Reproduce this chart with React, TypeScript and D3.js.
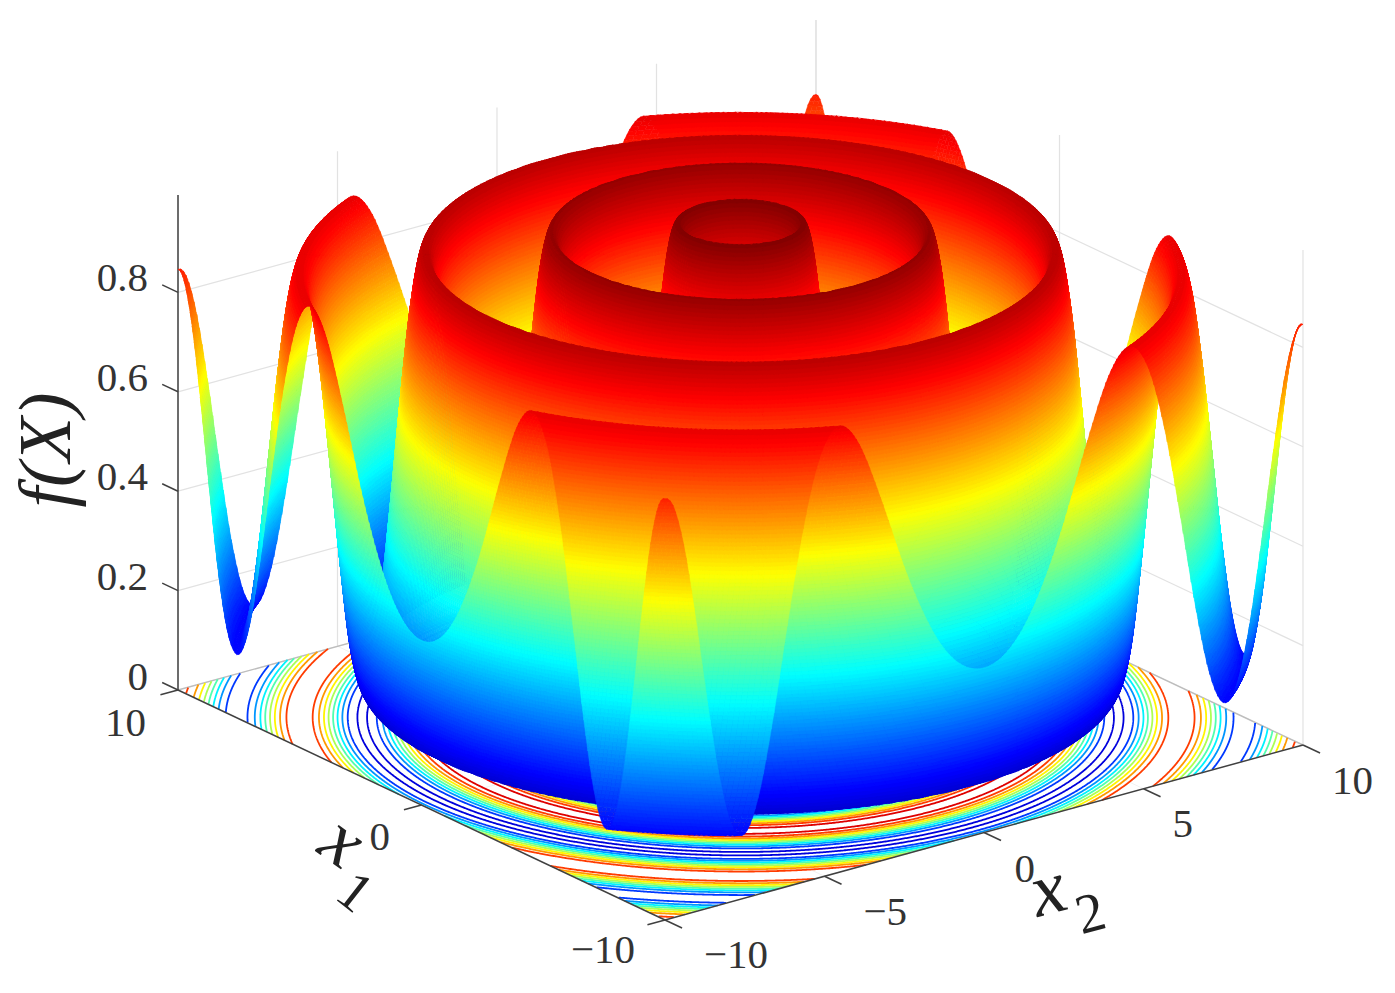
import React, { useEffect, useRef } from "react";
import * as d3 from "d3";

// ---- data ----
const profileStep = 0.25; // radius spacing of profileValues
const profileValues = [
  0, 0.0612, 0.23, 0.4647, 0.7077, 0.8993, 0.9928, 0.9654, 0.8242, 0.6043, 0.3599, 0.1509,
  0.0284, 0.0218, 0.1321, 0.3315, 0.5705, 0.7904, 0.9377, 0.9769, 0.8994, 0.7252, 0.4979, 0.2735,
  0.1069, 0.0379, 0.0823, 0.2279, 0.4379, 0.6602, 0.8405, 0.9354, 0.923, 0.8081, 0.6197, 0.4054,
  0.2175, 0.1033, 0.0841, 0.1605, 0.3314, 0.5326, 0.7222, 0.8544, 0.8979, 0.8442, 0.7078, 0.524,
  0.3379, 0.1951, 0.1293, 0.1547, 0.2633, 0.4269, 0.6045, 0.7528, 0.8365, 0.8367, 0.7554,
];
const contourLevels = [0.091, 0.181, 0.272, 0.363, 0.453, 0.544, 0.635, 0.725, 0.816, 0.907];
const zTicks = [0, 0.2, 0.4, 0.6, 0.8];
const x1Ticks = [-10, 0, 10];
const x2Ticks = [-10, -5, 0, 5, 10];
const zMaxAxis = 0.996;
const jetStops = [0, 0.125, 0.375, 0.625, 0.875, 1];
const jetColors = ["#000080", "#0000ff", "#00ffff", "#ffff00", "#ff0000", "#800000"];
const colorLevels = 128;
const gridN = 240;

// tick labels [text, right edge, baseline]
const x1LabelPos: [string, number, number][] = [["10", 146, 736], ["0", 390, 850], ["\u221210", 635, 963]];
const x2LabelPos: [string, number, number][] = [["\u221210", 768, 968], ["\u22125", 907, 925], ["0", 1035, 882], ["5", 1193, 837], ["10", 1373, 794]];

// ---- projection (orthographic) ----
const ox = d3.scaleLinear().domain([-10, 10]).range([0, -487]);
const ox2 = d3.scaleLinear().domain([-10, 10]).range([665, 1303]);
const oy = d3.scaleLinear().domain([-10, 10]).range([0, -230]);
const oy2 = d3.scaleLinear().domain([-10, 10]).range([920, 745]);
const oz = d3.scaleLinear().domain([0, 1]).range([0, -497]);
const project = (a: number, b: number, z = 0): [number, number] => [ox(a) + ox2(b), oy(a) + oy2(b) + oz(z)];

const jet = d3.scaleLinear<string>().domain(jetStops).range(jetColors).interpolate(d3.interpolateRgb);
const palette = d3.range(colorLevels).map((k) => d3.color(jet((k + 0.5) / colorLevels))!.formatHex());

// Smooth reading of the radial profile
function heightAt(r: number) {
  const t = r / profileStep;
  const i = Math.min(Math.floor(t), profileValues.length - 3);
  const u = t - i;
  const p0 = profileValues[Math.max(i - 1, 0)];
  const p1 = profileValues[i];
  const p2 = profileValues[i + 1];
  const p3 = profileValues[i + 2];
  const v =
    0.5 * (2 * p1 + (p2 - p0) * u + (2 * p0 - 5 * p1 + 4 * p2 - p3) * u * u + (3 * p1 - p0 - 3 * p2 + p3) * u * u * u);
  return Math.max(0, v);
}

type P = [number, number, number];
function clip(poly: P[], lim: number, keepAbove: boolean): P[] {
  const out: P[] = [];
  for (let i = 0; i < poly.length; i++) {
    const a = poly[i];
    const b = poly[(i + 1) % poly.length];
    const ain = keepAbove ? a[2] >= lim : a[2] <= lim;
    const bin = keepAbove ? b[2] >= lim : b[2] <= lim;
    if (ain) out.push(a);
    if (ain !== bin) {
      const t = (lim - a[2]) / (b[2] - a[2]);
      out.push([a[0] + (b[0] - a[0]) * t, a[1] + (b[1] - a[1]) * t, lim]);
    }
  }
  return out;
}

function addTriangle(tri: P[], sink: Map<number, string[]>) {
  const zs = tri.map((p) => p[2]);
  const k0 = Math.min(colorLevels - 1, Math.floor(Math.min(...zs) * colorLevels));
  const k1 = Math.min(colorLevels - 1, Math.floor(Math.max(...zs) * colorLevels));
  for (let k = k0; k <= k1; k++) {
    let poly = tri;
    if (k0 !== k1) {
      if (k > k0) poly = clip(poly, k / colorLevels, true);
      if (k < k1) poly = clip(poly, (k + 1) / colorLevels, false);
    }
    if (poly.length < 3) continue;
    let s = "M";
    for (let i = 0; i < poly.length; i++) s += (i ? "L" : "") + poly[i][0].toFixed(1) + " " + poly[i][1].toFixed(1);
    s += "Z";
    if (!sink.has(k)) sink.set(k, []);
    sink.get(k)!.push(s);
  }
}

function surfaceRows() {
  const coord = d3.scaleLinear().domain([0, gridN]).range([-10, 10]);
  const verts: P[][] = d3.range(gridN + 1).map((i) =>
    d3.range(gridN + 1).map((j) => {
      const a = coord(i);
      const b = coord(j);
      const z = heightAt(Math.hypot(a, b));
      const [x, y] = project(a, b, z);
      return [x, y, z] as P;
    })
  );
  const out: { key: string; color: string; d: string }[] = [];
  for (let i = gridN - 1; i >= 0; i--) {
    const sink = new Map<number, string[]>();
    for (let j = gridN - 1; j >= 0; j--) {
      const q00 = verts[i][j];
      const q01 = verts[i][j + 1];
      const q10 = verts[i + 1][j];
      const q11 = verts[i + 1][j + 1];
      addTriangle([q11, q01, q10], sink);
      addTriangle([q01, q00, q10], sink);
    }
    sink.forEach((parts, k) => out.push({ key: i + "-" + k, color: palette[k], d: parts.join("") }));
  }
  return out;
}

function contourLines() {
  const n = 601;
  const coord = d3.scaleLinear().domain([0.5, n - 0.5]).range([-10, 10]);
  const values = new Float64Array(n * n);
  for (let j = 0; j < n; j++)
    for (let i = 0; i < n; i++) values[j * n + i] = heightAt(Math.hypot(coord(i + 0.5), coord(j + 0.5)));
  const gen = d3.contours().size([n, n]).thresholds(contourLevels);
  const line = d3.line();
  return gen(Array.from(values)).map((c) => {
    let d = "";
    c.coordinates.forEach((poly) =>
      poly.forEach((ring) => {
        let run: [number, number][] = [];
        const flush = () => {
          if (run.length > 1) d += line(run);
          run = [];
        };
        ring.forEach(([px, py]) => {
          if (px <= 0.5 || py <= 0.5 || px >= n - 0.5 || py >= n - 0.5) flush();
          else run.push(project(coord(px), coord(py)));
        });
        flush();
      })
    );
    return { level: c.value, d };
  });
}

export default function App() {
  const ref = useRef<SVGSVGElement>(null);
  useEffect(() => {
    const svg = d3.select(ref.current!);
    svg.selectAll("*").remove();
    const seg = (g: any, a: [number, number], b: [number, number], color: string, w: number) =>
      g.append("line").attr("x1", a[0]).attr("y1", a[1]).attr("x2", b[0]).attr("y2", b[1]).attr("stroke", color).attr("stroke-width", w);

    const grid = svg.append("g");
    const gc = "#e2e2e2";
    zTicks.forEach((z) => {
      if (z > 0) {
        seg(grid, project(10, -10, z), project(10, 10, z), gc, 1.2);
        seg(grid, project(10, 10, z), project(-10, 10, z), gc, 1.2);
      }
    });
    x2Ticks.forEach((b) => {
      seg(grid, project(10, b, 0), project(10, b, zMaxAxis), gc, 1.2);
      seg(grid, project(-10, b, 0), project(10, b, 0), "#f2f2f2", 1);
    });
    x1Ticks.forEach((a) => {
      seg(grid, project(a, 10, 0), project(a, 10, zMaxAxis), gc, 1.2);
      seg(grid, project(a, -10, 0), project(a, 10, 0), "#f2f2f2", 1);
    });
    seg(grid, project(10, -10, 0), project(10, 10, 0), "#bdbdbd", 1.4);
    seg(grid, project(10, 10, 0), project(-10, 10, 0), "#bdbdbd", 1.4);

    svg
      .append("g")
      .selectAll("path")
      .data(contourLines())
      .join("path")
      .attr("d", (d) => d.d)
      .attr("fill", "none")
      .attr("stroke", (d) => jet(d.level))
      .attr("stroke-width", 1.8);

    const axes = svg.append("g");
    const ac = "#404040";
    seg(axes, project(10, -10, 0), project(10, -10, zMaxAxis), ac, 1.5);
    seg(axes, project(10, -10, 0), project(-10, -10, 0), ac, 1.5);
    seg(axes, project(-10, -10, 0), project(-10, 10, 0), ac, 1.5);
    zTicks.forEach((z) => seg(axes, project(10, -10, z), project(10.65, -10, z), ac, 1.5));
    x1Ticks.forEach((a) => seg(axes, project(a, -10, 0), project(a, -10.55, 0), ac, 1.5));
    x2Ticks.forEach((b) => seg(axes, project(-10, b, 0), project(-10.7, b, 0), ac, 1.5));

    svg
      .append("g")
      .attr("stroke-width", 0.45)
      .attr("stroke-linejoin", "round")
      .selectAll("path")
      .data(surfaceRows())
      .join("path")
      .attr("d", (d) => d.d)
      .attr("fill", (d) => d.color)
      .attr("stroke", (d) => d.color);

    const labels = svg.append("g").attr("font-family", "'Liberation Serif', serif").attr("fill", "#333");
    const label = (s: string, x: number, y: number) =>
      labels.append("text").attr("x", x).attr("y", y).attr("text-anchor", "end").attr("font-size", 41).text(s);
    zTicks.forEach((z) => label(z === 0 ? "0" : String(z), 148, project(10, -10, z)[1] + (z === 0 ? 0 : -1)));
    x1LabelPos.forEach(([s, x, y]) => label(s, x, y));
    x2LabelPos.forEach(([s, x, y]) => label(s, x, y));

    const title = svg.append("g").attr("font-family", "'Liberation Serif', serif").attr("fill", "#222").attr("font-style", "italic").attr("text-anchor", "middle");
    title.append("text").attr("transform", "translate(70,450) rotate(-90)").attr("font-size", 74).text("f(X)");
    title.append("text").attr("transform", "translate(329,861) rotate(35)").attr("font-size", 76).text("x");
    title.append("text").attr("transform", "translate(344,906) rotate(38)").attr("font-size", 56).attr("font-style", "normal").text("1");
    title.append("text").attr("transform", "translate(1054,913) rotate(-15)").attr("font-size", 76).text("x");
    title.append("text").attr("transform", "translate(1095,931) rotate(-15)").attr("font-size", 56).attr("font-style", "normal").text("2");
  }, []);
  return <svg ref={ref} width={1395} height={993} style={{ position: "absolute", left: 0, top: 0, background: "#fff" }} />;
}
